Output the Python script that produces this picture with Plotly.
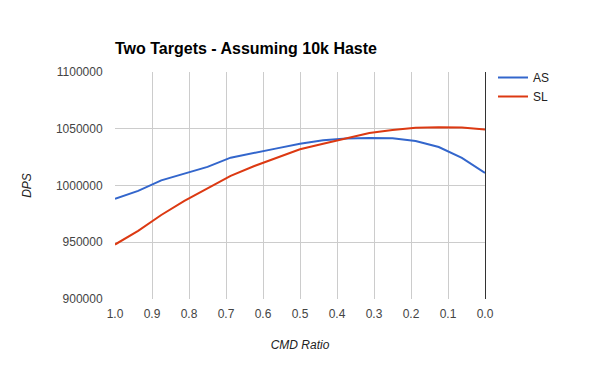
import plotly.graph_objects as go

cmd_ratio = [1.0, 0.9375, 0.875, 0.8125, 0.75, 0.6875, 0.625, 0.5625, 0.5,
             0.4375, 0.375, 0.3125, 0.25, 0.1875, 0.125, 0.0625, 0.0]
as_dps = [988300, 995300, 1004500, 1010500, 1016400, 1024500, 1028900, 1032700, 1036800,
          1039800, 1041500, 1041900, 1041600, 1039200, 1033900, 1024300, 1011000]
sl_dps = [948000, 960000, 974000, 986500, 997500, 1008500, 1017000, 1024600, 1031900,
          1036800, 1041800, 1046300, 1048800, 1050800, 1051300, 1051200, 1049400]

title_text = "Two Targets - Assuming 10k Haste"
x_title = "CMD Ratio"
y_title = "DPS"

FONT = "Liberation Sans, Arial, sans-serif"

fig = go.Figure()
fig.add_trace(go.Scatter(x=cmd_ratio, y=as_dps, mode="lines", name="AS",
                         line=dict(color="#3366cc", width=2)))
fig.add_trace(go.Scatter(x=cmd_ratio, y=sl_dps, mode="lines", name="SL",
                         line=dict(color="#dc3912", width=2)))

fig.update_layout(
    width=600, height=371,
    margin=dict(l=115, r=115, t=72, b=72, autoexpand=False),
    paper_bgcolor="white", plot_bgcolor="white",
    font=dict(family=FONT, size=12, color="#222222"),
    title=dict(text="<b>" + title_text + "</b>", x=115 / 600, xref="container",
               xanchor="left", y=1 - 48 / 371, yanchor="middle",
               font=dict(family=FONT, size=16, color="#000000")),
    showlegend=True,
    legend=dict(x=1 + 8 / 370, xanchor="left", y=1 + 9 / 227, yanchor="top",
                font=dict(size=12, color="#222222"),
                bgcolor="rgba(0,0,0,0)", tracegroupgap=0, itemwidth=30),
    xaxis=dict(range=[1, 0], dtick=0.1, tick0=0, tickformat=".1f",
               showgrid=True, gridcolor="#cccccc", gridwidth=1,
               zeroline=True, zerolinecolor="#333333", zerolinewidth=1,
               showline=False, ticks="outside", ticklen=4, tickcolor="rgba(0,0,0,0)",
               tickfont=dict(size=12, color="#444444"),
               title=dict(text="<i>" + x_title + "</i>", standoff=20,
                          font=dict(size=12, color="#222222"))),
    yaxis=dict(range=[900000, 1100000], dtick=50000, tick0=900000, tickformat="d",
               showgrid=True, gridcolor="#cccccc", gridwidth=1,
               zeroline=False, showline=False,
               ticks="outside", ticklen=9, tickcolor="rgba(0,0,0,0)",
               tickfont=dict(size=12, color="#444444"),
               title=dict(text="<i>" + y_title + "</i>", standoff=21,
                          font=dict(size=12, color="#222222"))),
)

fig.write_html("out.html", config={"displayModeBar": False},
               post_script="document.body.style.margin='0';")
